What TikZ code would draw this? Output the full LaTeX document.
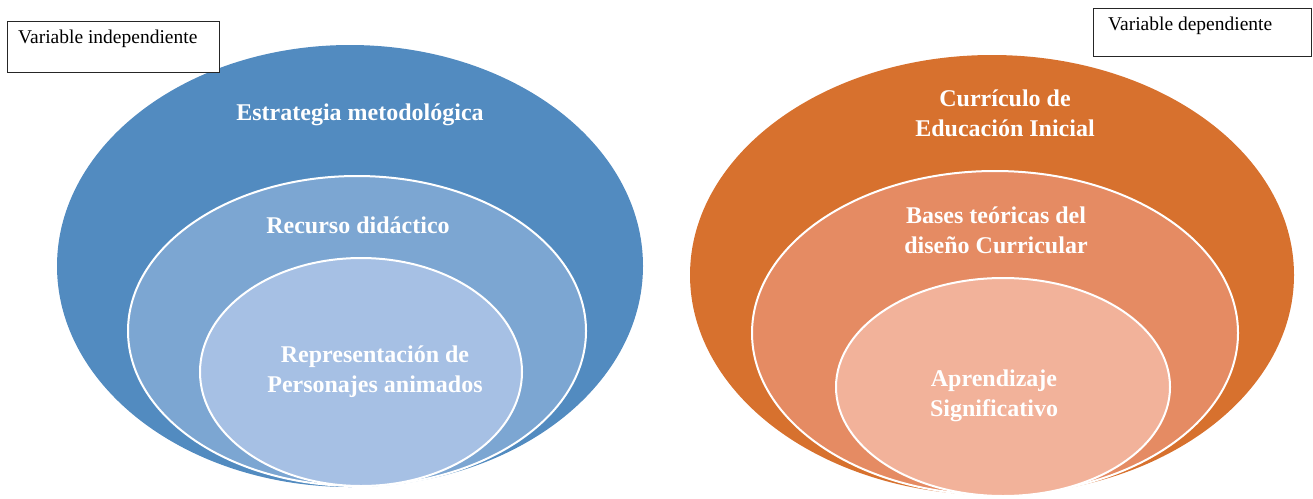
\documentclass[tikz,border=0pt]{standalone}
\usepackage{fontspec}
\setmainfont{Liberation Serif}
\usetikzlibrary{shapes.geometric}
\definecolor{bOut}{HTML}{528BC0}
\definecolor{bMid}{HTML}{7CA6D2}
\definecolor{bIn}{HTML}{A6C0E4}
\definecolor{oOut}{HTML}{D7712E}
\definecolor{oMid}{HTML}{E58B63}
\definecolor{oIn}{HTML}{F2B29A}
\begin{document}
\begin{tikzpicture}[x=1pt,y=-1pt,
  ell/.style={ellipse, inner sep=0pt, outer sep=0pt},
  ring/.style={ell, draw=white, line width=2pt},
  lbl/.style={text=white, font=\fontsize{24}{30}\selectfont\bfseries, align=center, inner sep=0pt},
  varbox/.style={draw=black!85, line width=1pt, fill=white, inner sep=0pt, anchor=north west},
  vartext/.style={anchor=base west, inner sep=0pt, font=\fontsize{19.5}{22}\selectfont}
]
\useasboundingbox (0,0) rectangle (1313,498);
% left set (independent variable)
\node[ell, fill=bOut, minimum width=586pt, minimum height=442pt] (bo) at (350,266) {};
\node[ring, fill=bMid, minimum width=458pt, minimum height=310pt] (bm) at (357,331) {};
\node[ring, fill=bIn, minimum width=322pt, minimum height=228pt] (bi) at (361,372) {};
\node[lbl] (bot) at (360,115) {Estrategia metodológica};
\node[lbl] (bmt) at (358,225) {Recurso didáctico};
\node[lbl] (bit) at (375,372) {Representación de\\Personajes animados};
% right set (dependent variable)
\node[ell, fill=oOut, minimum width=604pt, minimum height=440pt] (oo) at (992,275) {};
\node[ring, fill=oMid, minimum width=486pt, minimum height=324pt] (om) at (995,333) {};
\node[ring, fill=oIn, minimum width=334pt, minimum height=218pt] (oi) at (1003,387) {};
\node[lbl] (oot) at (1005,113) {Currículo de\\Educación Inicial};
\node[lbl] (omt) at (996,230) {Bases teóricas del\\diseño Curricular};
\node[lbl] (oit) at (994,396) {Aprendizaje\\Significativo};
% variable boxes
\node[varbox, minimum width=212pt, minimum height=51pt] (vi) at (7,21) {};
\node[vartext] (vit) at (18,43) {Variable independiente};
\node[varbox, minimum width=218pt, minimum height=48pt] (vd) at (1093,8) {};
\node[vartext] (vdt) at (1108,30) {Variable dependiente};
\end{tikzpicture}
\end{document}
